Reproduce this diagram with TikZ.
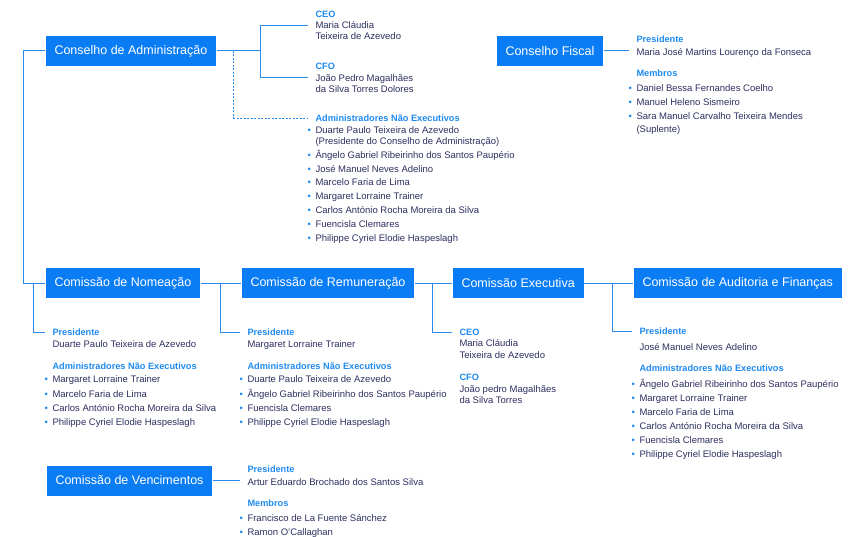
\documentclass[tikz,border=0pt]{standalone}
\usepackage{fontspec}
\setmainfont{Liberation Sans}
\usepackage{xcolor}
\usepackage{tikz}
\usetikzlibrary{positioning}

\definecolor{boxblue}{HTML}{0A7DF4}
\definecolor{roleblue}{HTML}{1E8AF0}
\definecolor{namenavy}{HTML}{2B2F5E}
\definecolor{linkblue}{HTML}{2A8AEE}
\newcommand{\bul}{\makebox[0pt][r]{\textcolor{roleblue}{\textbullet}\hspace{4.5pt}}}
\newcommand{\rolet}[1]{{\color{roleblue}\bfseries\fontsize{9.2}{11.2}\selectfont #1}}

\begin{document}
\begin{tikzpicture}[x=1pt, y=-1pt, line width=1pt]
	\tikzstyle{unit} = [fill=boxblue, text=white, minimum height=30pt, inner xsep=9pt, anchor=west, font=\fontsize{12.5}{15}\selectfont]
	\tikzstyle{role} = [text=roleblue, inner xsep=7pt, inner ysep=0pt, anchor=base west, font=\fontsize{9.2}{11.2}\selectfont\bfseries]
	\tikzstyle{names} = [text=namenavy, inner xsep=7pt, inner ysep=0pt, anchor=north west, align=left, font=\fontsize{9.5}{11.2}\selectfont, execute at begin node=\rule{0pt}{9.5pt}]
	\tikzstyle{link} = [draw=linkblue, line width=1pt]
	\useasboundingbox (0,0) rectangle (848,537);

	% conselho de administracao
	\node[unit]		at (45, 51)		(ca)	{Conselho de Administração};
	\node[names]	at (308, 10.5)	(ceo)	{\rolet{CEO}\\Maria Cláudia\\Teixeira de Azevedo};
	\node[names]	at (308, 63)	(cfo)	{\rolet{CFO}\\João Pedro Magalhães\\da Silva Torres Dolores};
	\node[role]		at (308, 121.5)	(nexT)	{Administradores Não Executivos};
	\node[names]	at (308, 126)	(nexL)	{\bul Duarte Paulo Teixeira de Azevedo\\(Presidente do Conselho de Administração)\\[2.6pt]
		\bul Ângelo Gabriel Ribeirinho dos Santos Paupério\\[2.6pt]\bul José Manuel Neves Adelino\\[2.6pt]
		\bul Marcelo Faria de Lima\\[2.6pt]\bul Margaret Lorraine Trainer\\[2.6pt]
		\bul Carlos António Rocha Moreira da Silva\\[2.6pt]\bul Fuencisla Clemares\\[2.6pt]
		\bul Philippe Cyriel Elodie Haspeslagh};

	% conselho fiscal
	\node[unit]		at (496, 51)	(fis)	{Conselho Fiscal};
	\node[role]		at (629, 42.5)	(fisP)	{Presidente};
	\node[names]	at (629, 46)	(fisPn)	{Maria José Martins Lourenço da Fonseca};
	\node[role]		at (629, 76.5)	(fisM)	{Membros};
	\node[names]	at (629, 84)	(fisL)	{\bul Daniel Bessa Fernandes Coelho\\[2.8pt]\bul Manuel Heleno Sismeiro\\[2.8pt]
		\bul Sara Manuel Carvalho Teixeira Mendes\\[1.5pt](Suplente)};

	% comissoes
	\node[unit]		at (45, 283)	(nom)	{Comissão de Nomeação};
	\node[unit]		at (241, 283)	(rem)	{Comissão de Remuneração};
	\node[unit]		at (452, 283)	(exe)	{Comissão Executiva};
	\node[unit]		at (633, 283)	(aud)	{Comissão de Auditoria e Finanças};

	\node[role]		at (45, 335.5)	(nomP)	{Presidente};
	\node[names]	at (45, 337)	(nomPn)	{Duarte Paulo Teixeira de Azevedo};
	\node[role]		at (45, 369.5)	(nomT)	{Administradores Não Executivos};
	\node[names]	at (45, 375.5)	(nomL)	{\bul Margaret Lorraine Trainer\\[3pt]\bul Marcelo Faria de Lima\\[3pt]
		\bul Carlos António Rocha Moreira da Silva\\[3pt]\bul Philippe Cyriel Elodie Haspeslagh};

	\node[role]		at (240, 335.5)	(remP)	{Presidente};
	\node[names]	at (240, 337)	(remPn)	{Margaret Lorraine Trainer};
	\node[role]		at (240, 369.5)	(remT)	{Administradores Não Executivos};
	\node[names]	at (240, 375.5)	(remL)	{\bul Duarte Paulo Teixeira de Azevedo\\[3pt]\bul Ângelo Gabriel Ribeirinho dos Santos Paupério\\[3pt]
		\bul Fuencisla Clemares\\[3pt]\bul Philippe Cyriel Elodie Haspeslagh};

	\node[role]		at (452, 335.5)	(exeC)	{CEO};
	\node[names]	at (452, 339.5)	(exeCn)	{Maria Cláudia\\Teixeira de Azevedo};
	\node[role]		at (452, 380.5)	(exeF)	{CFO};
	\node[names]	at (452, 385)	(exeFn)	{João pedro Magalhães\\da Silva Torres};

	\node[role]		at (632, 334.5)	(audP)	{Presidente};
	\node[names]	at (632, 340)	(audPn)	{José Manuel Neves Adelino};
	\node[role]		at (632, 371.5)	(audT)	{Administradores Não Executivos};
	\node[names]	at (632, 379)	(audL)	{\bul Ângelo Gabriel Ribeirinho dos Santos Paupério\\[2.8pt]\bul Margaret Lorraine Trainer\\[2.8pt]
		\bul Marcelo Faria de Lima\\[2.8pt]\bul Carlos António Rocha Moreira da Silva\\[2.8pt]
		\bul Fuencisla Clemares\\[2.8pt]\bul Philippe Cyriel Elodie Haspeslagh};

	% comissao de vencimentos
	\node[unit]		at (46, 480.5)	(ven)	{Comissão de Vencimentos};
	\node[role]		at (240, 472.5)	(venP)	{Presidente};
	\node[names]	at (240, 475)	(venPn)	{Artur Eduardo Brochado dos Santos Silva};
	\node[role]		at (240, 506.5)	(venM)	{Membros};
	\node[names]	at (240, 514)	(venL)	{\bul Francisco de La Fuente Sánchez\\[2.8pt]\bul Ramon O'Callaghan};

	% ligacoes
	\draw[link] (ca.east) -- ++(44,0) coordinate (caj);
	\draw[link] (caj) |- (ceo.west);
	\draw[link] (caj) |- (cfo.west);
	\draw[link, dash pattern=on 2pt off 1.5pt] (ca.east) ++(17,0) |- (nexT.west);
	\draw[link] (ca.west) -- ++(-22,0) |- (nom.west);
	\draw[link] (nom.east) -- (rem.west) (rem.east) -- (exe.west) (exe.east) -- (aud.west);
	\draw[link] (nom.west) ++(-12,0) |- (nomP.west);
	\draw[link] (rem.west) ++(-21,0) |- (remP.west);
	\draw[link] (exe.west) ++(-20,0) |- (exeC.west);
	\draw[link] (aud.west) ++(-21,0) |- (audP.west);
	\draw[link] (fis.east) -- (fis.east -| fisPn.west);
	\draw[link] (ven.east) -- (ven.east -| venPn.west);
\end{tikzpicture}
\end{document}
